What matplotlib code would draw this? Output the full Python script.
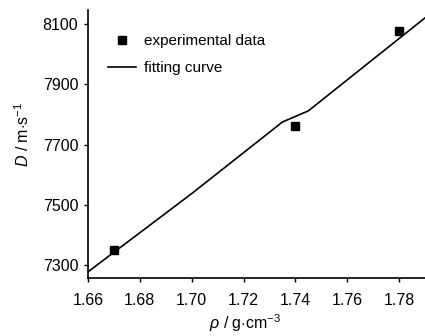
import matplotlib
matplotlib.use("Agg")
import matplotlib.pyplot as plt

# experimental detonation velocity vs density
rho_exp = [1.670, 1.740, 1.780]
D_exp = [7350, 7762, 8078]

# fitted curve
rho_fit = [1.660, 1.700, 1.735, 1.745, 1.790]
D_fit = [7277, 7537, 7775, 7812, 8121]

xticks = [1.66, 1.68, 1.70, 1.72, 1.74, 1.76, 1.78]
yticks = [7300, 7500, 7700, 7900, 8100]

plt.rcParams['font.family'] = ['Liberation Sans', 'DejaVu Sans']
plt.rcParams['mathtext.fontset'] = 'custom'
plt.rcParams['mathtext.rm'] = 'Liberation Sans'
plt.rcParams['mathtext.it'] = 'Liberation Sans:italic'

fig = plt.figure(figsize=(4.25, 3.36), dpi=100)
ax = fig.add_axes([0.207, 0.173, 0.793, 0.797])

ax.plot(rho_exp, D_exp, 's', color='black', markersize=5.5, label='experimental data')
ax.plot(rho_fit, D_fit, '-', color='black', linewidth=1.2, label='fitting curve')

ax.set_xlim(1.66, 1.79)
ax.set_ylim(7257, 8147)
ax.set_xticks(xticks)
ax.set_xticklabels(['%.2f' % v for v in xticks])
ax.set_yticks(yticks)

for s in ['top', 'right']:
    ax.spines[s].set_visible(False)
for s in ['left', 'bottom']:
    ax.spines[s].set_linewidth(1.2)
ax.tick_params(direction='out', length=3, width=1, labelsize=11.5)
ax.tick_params(axis='x', pad=8)
ax.tick_params(axis='y', pad=4)

ax.set_xlabel(r'$\rho$ / g$\cdot$cm$^{-3}$', fontsize=11.5)
ax.set_ylabel(r'$D$ / m$\cdot$s$^{-1}$', fontsize=11.5)
ax.xaxis.set_label_coords(0.466, -0.128)
ax.yaxis.set_label_coords(-0.165, 0.534)

ax.legend(loc='upper left', bbox_to_anchor=(0.02, 0.962), frameon=False,
          fontsize=11, handlelength=1.8, handletextpad=0.5, labelspacing=0.85)

fig.savefig('out.png', dpi=100)
